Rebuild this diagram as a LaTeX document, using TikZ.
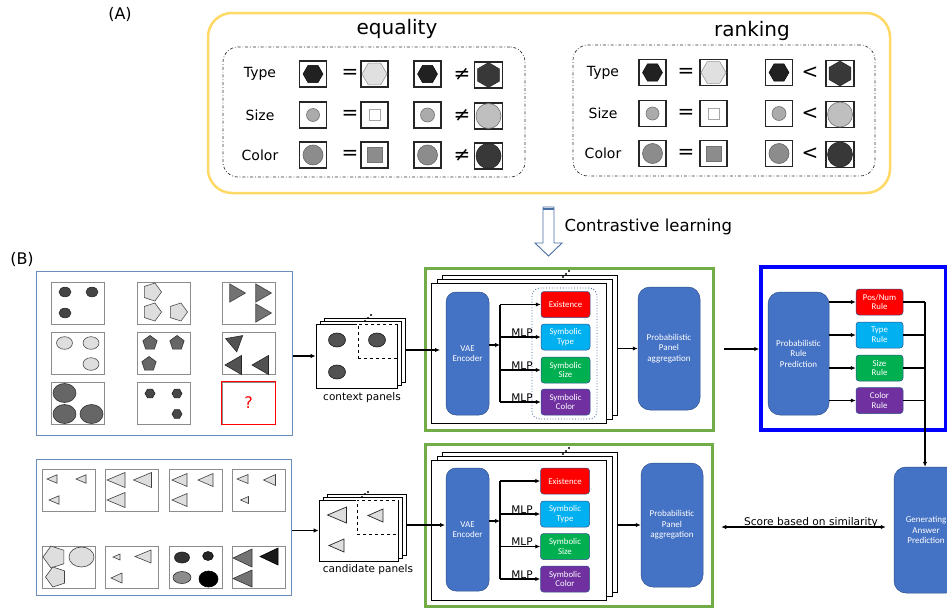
\documentclass[tikz,border=0pt]{standalone}
\usepackage{fontspec}
\setmainfont{DejaVu Sans}
\newfontfamily\boxfont{Carlito}
\usetikzlibrary{arrows.meta,calc}

\definecolor{frameyellow}{HTML}{FFD966}
\definecolor{blockblue}{HTML}{4472C4}
\definecolor{blockedge}{HTML}{2F528F}
\definecolor{exred}{HTML}{FF0000}
\definecolor{typecyan}{HTML}{00B0F0}
\definecolor{sizegreen}{HTML}{00B050}
\definecolor{colpurple}{HTML}{7030A0}
\definecolor{stagegreen}{HTML}{70AD47}
\definecolor{gridblue}{HTML}{6C8EBF}
\definecolor{hollowblue}{HTML}{4A6FA5}

% regular n-gon: x, y, sides, radius (pt), start angle, style
\newcommand\ngon[6]{\draw[#6] ([shift={(#1,#2)}]#5:#4pt)
  \foreach \k in {1,...,#3}{ -- ([shift={(#1,#2)}]{#5+\k*360/#3}:#4pt)} -- cycle;}
% left-pointing triangle: x, y, width, height, style
\newcommand\ltri[5]{\draw[#5] (#1-#3/2,#2) -- (#1+#3/2,#2-#4/2) -- (#1+#3/2,#2+#4/2) -- cycle;}
% ellipse: x, y, x radius, y radius, style
\newcommand\blob[5]{\draw[#5] (#1,#2) ellipse [x radius=#3pt, y radius=#4pt];}

% one comparison grid: prefix, relation, four column centres, label x, '=' x, relation x
\newcommand\relgrid[9]{%
  \node[lbl] (#1-lt) at (#7,74) {Type};
  \node[lbl] (#1-ls) at (#7,115) {Size};
  \node[lbl] (#1-lc) at (#7,155) {Color};
  \foreach \r/\y in {1/74,2/115,3/155}{
    \node[icon] (#1-a\r) at (#3,\y) {};
    \node[icon] (#1-b\r) at (#4,\y) {};
    \node[icon] (#1-c\r) at (#5,\y) {};
    \node[icon, minimum width=28pt] (#1-d\r) at (#6,\y+1) {};
    \node[rel] (#1-e\r) at (#8,\y) {=};
    \node[rel] (#1-n\r) at (#9,\y) {#2};
  }
  % type row
  \ngon{#3}{74}{6}{10}{0}{fill=black!87, draw=black}
  \ngon{#4}{74}{6}{12.5}{0}{fill=black!12, draw=black!40, line width=0.6pt}
  \ngon{#5}{74}{6}{10}{0}{fill=black!87, draw=black}
  \ngon{#6}{75}{6}{12.5}{90}{fill=black!78, draw=black!85}
  % size row
  \draw[fill=black!33, draw=black!55, line width=0.6pt] (#3,115) circle [radius=6.5pt];
  \draw[fill=white, draw=black!35, line width=0.8pt] (#4-5.5,115-5.5) rectangle ++(11,11);
  \draw[fill=black!33, draw=black!55, line width=0.6pt] (#5,115) circle [radius=7pt];
  \draw[fill=black!25, draw=black!55, line width=0.6pt] (#6,116) circle [radius=12.5pt];
  % color row
  \draw[fill=black!45, draw=black!60, line width=0.6pt] (#3,155) circle [radius=10pt];
  \draw[fill=black!45, draw=black!55, line width=0.8pt] (#4-7.5,155-7.5) rectangle ++(15,15);
  \draw[fill=black!45, draw=black!60, line width=0.6pt] (#5,155) circle [radius=10pt];
  \draw[fill=black!78, draw=black!85, line width=0.6pt] (#6,156) circle [radius=12.5pt];
}

\begin{document}
\begin{tikzpicture}[x=1pt, y=-1pt,
  icon/.style={draw=black!85, line width=1.1pt, fill=white, minimum width=27pt, minimum height=26pt, inner sep=0pt},
  cell/.style={draw=black!45, line width=0.8pt, fill=white, minimum width=53pt, minimum height=42pt, inner sep=0pt},
  block/.style={draw=blockedge, line width=0.5pt, fill=blockblue, rounded corners=10pt, text=white,
    font=\boxfont\fontsize{9}{10.5}\selectfont, align=center, inner sep=0pt},
  tag/.style={draw=blockedge, line width=0.5pt, rounded corners=3pt, text=white,
    font=\boxfont\fontsize{8.8}{9.6}\selectfont, align=center, minimum width=49pt, minimum height=26pt, inner sep=0pt},
  sheet/.style={draw=black, line width=0.8pt, fill=white, inner sep=0pt},
  pick/.style={minimum width=#1, anchor=north east, inner sep=0pt, line width=0.8pt},
  flow/.style={line width=1.1pt, -{Latex[length=5pt,width=4.5pt]}},
  wire/.style={line width=1.1pt},
  lbl/.style={font=\fontsize{14}{16}\selectfont},
  rel/.style={font=\fontsize{20}{22}\selectfont},
  mlp/.style={font=\fontsize{10.5}{12}\selectfont, anchor=base},
  caption/.style={font=\fontsize{10.5}{12}\selectfont},
  dotmark/.style={fill=black}]
\clip (0,0) rectangle (947,608);
\fill[white] (0,0) rectangle (947,608);

% ---------------- (A) equality / ranking ----------------
\node[font=\fontsize{16}{18}\selectfont] (labA) at (120,14) {(A)};
\node[draw=frameyellow, line width=2.5pt, rounded corners=24pt, minimum width=682pt, minimum height=180pt] (groupA) at (549,103) {};
\node[font=\fontsize{20}{22}\selectfont] (titleEq) at (397,29) {equality};
\node[font=\fontsize{20}{22}\selectfont] (titleRk) at (752,31) {ranking};
\node[draw=black!80, line width=0.7pt, dash dot, rounded corners=15pt, minimum width=302pt, minimum height=130pt] (boxEq) at (374,112) {};
\node[draw=black!80, line width=0.7pt, dash dot, rounded corners=15pt, minimum width=302pt, minimum height=131pt] (boxRk) at (724,110.5) {};

\relgrid{eq}{≠}{313}{374.5}{427.5}{488.5}{260}{350}{462}
\begin{scope}[yshift=1.5pt]
\relgrid{rk}{<}{652.5}{713.5}{779}{840}{603}{686}{810}
\end{scope}

% contrastive learning arrow
\draw[draw=hollowblue, line width=0.9pt, fill=white] (543,207) -- (554,207) -- (554,243) -- (562,243)
  -- (548.5,256) -- (535,243) -- (543,243) -- cycle;
\draw[hollowblue, line width=2pt] (543,208.5) -- (554,208.5);
\node[font=\fontsize{16.5}{18}\selectfont, anchor=west] (contrast) at (561,227) {Contrastive learning};

% ---------------- (B) pipeline ----------------
\node[font=\fontsize{16}{18}\selectfont] (labB) at (22,259) {(B)};

% context matrix
\node[draw=gridblue, line width=1pt, minimum width=256pt, minimum height=164pt] (ctx) at (164,353) {};
\foreach \r/\y in {1/303,2/353,3/403}{
  \foreach \c/\x in {1/77.5,2/163.5,3/248.5}{
    \node[cell] (ctx\r\c) at (\x,\y) {};}}
\draw[red, line width=0.9pt] (ctx33.north west) rectangle (ctx33.south east);
\node[text=red, font=\fontsize{16}{18}\selectfont] (qmark) at (ctx33) {?};

\foreach \x/\y in {65/292,92/292,65/313}{
  \blob{\x}{\y}{6}{4.8}{fill=black!73, draw=black!85, line width=0.6pt}}
\foreach \x/\y in {152/292,152/312,178/312}{
  \ngon{\x}{\y}{5}{9.5}{0}{fill=black!13, draw=black!70, line width=0.6pt}}
\foreach \x/\y in {235/293,261/293,261/313}{
  \ngon{\x}{\y}{3}{10.5}{0}{fill=black!55, draw=black!75, line width=0.6pt}}
\foreach \x/\y in {64.5/343,91/343,91/364}{
  \blob{\x}{\y}{8}{6.3}{fill=black!13, draw=black!70, line width=0.6pt}}
\foreach \x/\y in {150/343,177/343,149/364}{
  \ngon{\x}{\y}{5}{7.5}{90}{fill=black!60, draw=black!80, line width=0.6pt}}
\ngon{235}{342}{3}{10}{280}{fill=black!68, draw=black!85, line width=0.6pt}
\ngon{236}{365}{3}{11}{180}{fill=black!68, draw=black!85, line width=0.6pt}
\ngon{263}{365}{3}{11}{180}{fill=black!68, draw=black!85, line width=0.6pt}
\foreach \x/\y in {64.5/393,64.5/414,91.5/414}{
  \blob{\x}{\y}{11.5}{9.5}{fill=black!60, draw=black!80, line width=0.6pt}}
\foreach \x/\y in {150/393.5,177/393.5,177/414}{
  \ngon{\x}{\y}{6}{5}{0}{fill=black!72, draw=black!85, line width=0.6pt}}

% context panel stack
\node[sheet, minimum width=81pt, minimum height=64pt] (ctxback2) at (364.5,350) {};
\node[sheet, minimum width=81pt, minimum height=64pt] (ctxback1) at (360.5,353) {};
\node[sheet, minimum width=81pt, minimum height=64pt] (ctxstack) at (356.5,356) {};
\node[pick=39pt, minimum height=34pt, draw=white, line width=1.4pt] (ctxselbg) at (ctxstack.north east) {};
\node[pick=39pt, minimum height=34pt, draw, dashed] (ctxsel) at (ctxstack.north east) {};
\foreach \x/\y in {337/340,377/340,337/372}{
  \blob{\x}{\y}{8.5}{7}{fill=black!68, draw=black!90, line width=0.6pt}}
\foreach \x/\y in {365/321,368/318,371/315}{
  \fill[dotmark] (\x,\y) circle [radius=1.1pt];}
\node[caption] (ctxcap) at (362,398) {context panels};
\draw[flow] (ctx.east |- ctxstack.west) -- (ctxstack.west);

% candidate matrix
\node[draw=gridblue, line width=1pt, minimum width=255pt, minimum height=136pt] (cand) at (163.5,527) {};
\foreach \r/\y in {1/490,2/567}{
  \foreach \c/\x in {1/68.5,2/132,3/195.5,4/258.5}{
    \node[cell] (cand\r\c) at (\x,\y) {};}}
\foreach \x/\y/\w/\h in {52/479/10/8.5,81/479/10/8.5,54/500/10/8.5,
    116/480/18/15,142.5/480/18/15,116/500/18/15,
    179.5/480/15/13,205.5/480/15/13,179.5/500/15/13,
    242.5/479/11/9,269.5/480/12/11,244.5/500/8/7,
    116.5/557/7/6,143/556.5/16/13,116.5/578/11/10}{
  \ltri{\x}{\y}{\w}{\h}{fill=black!13, draw=black!75, line width=0.6pt}}
\ngon{54.5}{557}{5}{11.5}{180}{fill=black!13, draw=black!75, line width=0.6pt}
\ngon{56}{577}{5}{10.5}{180}{fill=black!13, draw=black!75, line width=0.6pt}
\blob{81.5}{557}{12.5}{10}{fill=black!13, draw=black!75, line width=0.6pt}
\blob{182}{557.5}{7.5}{5.5}{fill=black!80, draw=black!90, line width=0.6pt}
\blob{208}{556}{5.3}{4.5}{fill=black!85, draw=black!95, line width=0.6pt}
\blob{182}{577.5}{9}{6}{fill=black!45, draw=black!80, line width=0.6pt}
\blob{208.5}{579}{9.5}{8}{fill=black, draw=black, line width=0.6pt}
\ltri{242.5}{558}{19}{18}{fill=black!55, draw=black!80, line width=0.6pt}
\ltri{269}{556.5}{18}{17}{fill=black!90, draw=black, line width=0.6pt}
\ltri{242.5}{578.5}{19}{17}{fill=black!55, draw=black!80, line width=0.6pt}

% candidate panel stack
\node[sheet, minimum width=79pt, minimum height=61pt] (candback2) at (366.5,524.5) {};
\node[sheet, minimum width=79pt, minimum height=61pt] (candback1) at (362.5,527.5) {};
\node[sheet, minimum width=79pt, minimum height=61pt] (candstack) at (358.5,530.5) {};
\node[pick=41pt, minimum height=34pt, draw=white, line width=1.4pt] (candselbg) at (candstack.north east) {};
\node[pick=41pt, minimum height=34pt, draw, dashed] (candsel) at (candstack.north east) {};
\ltri{337}{515}{19}{16}{fill=black!13, draw=black!85, line width=0.7pt}
\ltri{375.5}{515.5}{15}{13}{fill=black!13, draw=black!85, line width=0.7pt}
\ltri{336.5}{545.5}{15}{13}{fill=black!13, draw=black!85, line width=0.7pt}
\foreach \x/\y in {362/497,365/494,368/492}{
  \fill[dotmark] (\x,\y) circle [radius=1.1pt];}
\node[caption] (candcap) at (368,570) {candidate panels};
\draw[flow] (cand.east |- candstack.west) -- (candstack.west);

% ---------- upper perception stage ----------
\node[draw=stagegreen, line width=3pt, minimum width=288pt, minimum height=162pt] (stageA) at (569,349) {};
\node[sheet, minimum width=175pt, minimum height=140pt] (frmA2) at (529.5,345) {};
\node[sheet, minimum width=175pt, minimum height=140pt] (frmA1) at (524.5,349) {};
\node[sheet, minimum width=175pt, minimum height=140pt] (frmA) at (518.5,353) {};
\foreach \x/\y in {563/277,566/274,569/271}{
  \fill[dotmark] (\x,\y) circle [radius=1.1pt];}
\node[block, minimum width=43pt, minimum height=123pt] (vaeA) at (467.5,353.5) {VAE\\Encoder};
\node[draw=blockedge, dotted, line width=0.8pt, rounded corners=8pt, minimum width=65pt, minimum height=131pt] (symgrp) at (564.5,353.5) {};
\node[tag, fill=exred] (exA) at (565.5,304.5) {Existence};
\node[tag, fill=typecyan] (tyA) at (565.5,337) {Symbolic\\Type};
\node[tag, fill=sizegreen] (szA) at (565.5,370) {Symbolic\\Size};
\node[tag, fill=colpurple] (coA) at (565.5,402) {Symbolic\\Color};
\node[block, minimum width=62pt, minimum height=123pt, rounded corners=12pt] (aggA) at (669,348.5) {Probabilistic\\Panel\\aggregation};
\coordinate (inA) at (440,350);
\draw[flow] (ctxback2.east |- inA) -- (inA);
\coordinate (busA) at (500,345);
\draw[flow] (vaeA.east |- busA) -- (busA);
\draw[wire] (busA |- exA.west) -- (busA |- coA.west);
\foreach \t in {exA,tyA,szA,coA}{
  \draw[flow] (busA |- \t.west) -- (\t.west);}
\node[mlp] (mlpA1) at (522,336) {MLP};
\node[mlp] (mlpA2) at (522,369) {MLP};
\node[mlp] (mlpA3) at (522,401) {MLP};
\draw[flow] (frmA2.east |- aggA.west) -- (aggA.west);

% ---------- lower perception stage ----------
\node[draw=stagegreen, line width=3pt, minimum width=287pt, minimum height=162pt] (stageB) at (568.5,525) {};
\node[sheet, minimum width=175pt, minimum height=140pt] (frmB2) at (529.5,522) {};
\node[sheet, minimum width=175pt, minimum height=140pt] (frmB1) at (524.5,526) {};
\node[sheet, minimum width=175pt, minimum height=140pt] (frmB) at (518.5,530) {};
\foreach \x/\y in {563/454,566/451,569/448}{
  \fill[dotmark] (\x,\y) circle [radius=1.1pt];}
\node[block, minimum width=43pt, minimum height=123pt] (vaeB) at (467.5,529.5) {VAE\\Encoder};
\node[tag, fill=exred] (exB) at (565,481) {Existence};
\node[tag, fill=typecyan] (tyB) at (565,514) {Symbolic\\Type};
\node[tag, fill=sizegreen] (szB) at (565,546.5) {Symbolic\\Size};
\node[tag, fill=colpurple] (coB) at (565,579) {Symbolic\\Color};
\node[block, minimum width=62pt, minimum height=124pt, rounded corners=12pt] (aggB) at (672,525) {Probabilistic\\Panel\\aggregation};
\coordinate (inB) at (445,525);
\draw[flow] (candback2.east |- inB) -- (inB);
\coordinate (busB) at (500,521);
\draw[flow] (vaeB.east |- busB) -- (busB);
\draw[wire] (busB |- exB.west) -- (busB |- coB.west);
\foreach \t in {exB,tyB,szB,coB}{
  \draw[flow] (busB |- \t.west) -- (\t.west);}
\node[mlp] (mlpB1) at (522,513) {MLP};
\node[mlp] (mlpB2) at (522,545.5) {MLP};
\node[mlp] (mlpB3) at (522,578) {MLP};
\draw[flow] (frmB2.east |- aggB.west) -- (aggB.west);

% ---------- rule prediction ----------
\node[draw=blue, line width=3.5pt, minimum width=185pt, minimum height=163pt] (ruleGrp) at (853.5,348.5) {};
\node[block, minimum width=61pt, minimum height=123pt, rounded corners=12pt] (prp) at (798.5,353.5) {Probabilistic\\Rule\\Prediction};
\node[tag, minimum width=47pt, fill=exred] (rPos) at (879.5,302) {Pos/Num\\Rule};
\node[tag, minimum width=47pt, fill=typecyan] (rType) at (879.5,335) {Type\\Rule};
\node[tag, minimum width=47pt, fill=sizegreen] (rSize) at (879.5,368) {Size\\Rule};
\node[tag, minimum width=47pt, fill=colpurple] (rCol) at (879.5,400.5) {Color\\Rule};
\coordinate (outA) at ($(stageA.east)+(9,0)$);
\draw[flow] (outA) -- (outA -| ruleGrp.west);
\foreach \t in {rPos,rType,rSize,rCol}{
  \draw[flow] (prp.east |- \t.west) -- (\t.west);}

% ---------- answer generation ----------
\node[block, minimum width=64pt, minimum height=126pt, rounded corners=12pt] (gen) at (926,530) {Generating\\Answer\\Prediction};
\coordinate (merge) at (925,302);
\foreach \t in {rPos,rType,rSize,rCol}{
  \draw[wire] (\t.east) -- (\t.east -| merge);}
\draw[flow] (merge) -- (merge |- gen.north);

\coordinate (scoreL) at ($(aggB.east)+(18,2)$);
\coordinate (scoreR) at ($(gen.west)+(-8,-3)$);
\draw[line width=1.1pt, {Latex[length=5pt,width=4.5pt]}-{Latex[length=5pt,width=4.5pt]}] (scoreL) -- (scoreR);
\node[font=\fontsize{10.6}{12}\selectfont, anchor=base] (scoreTxt) at (811,525) {Score based on similarity};
\end{tikzpicture}
\end{document}
